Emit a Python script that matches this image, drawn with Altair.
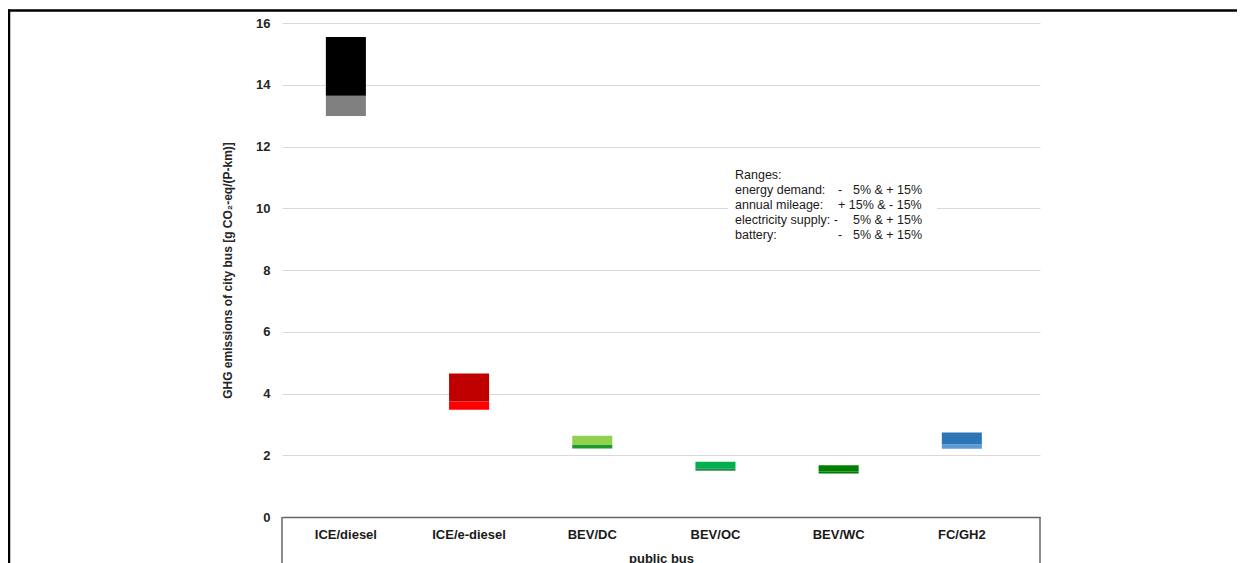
import altair as alt
import pandas as pd

# ---- data ----
categories = ["ICE/diesel", "ICE/e-diesel", "BEV/DC", "BEV/OC", "BEV/WC", "FC/GH2"]
low_values = [12.99, 3.47, 2.22, 1.50, 1.41, 2.21]
mid_values = [13.64, 3.74, 2.33, 1.58, 1.47, 2.36]
high_values = [15.55, 4.65, 2.63, 1.79, 1.68, 2.74]
upper_colors = ["#000000", "#c00000", "#92d050", "#00b050", "#008000", "#2e75b6"]
lower_colors = ["#808080", "#ff0000", "#1a9a28", "#1f8f48", "#007a00", "#5b9bd5"]
y_ticks = [0, 2, 4, 6, 8, 10, 12, 14, 16]

ann_labels = ["Ranges:", "energy demand:", "annual mileage:", "electricity supply: -", "battery:"]
ann_signs = ["", "-", "+ 15% & - 15%", "", "-"]
ann_values = ["", "5% & + 15%", "", "5% & + 15%", "5% & + 15%"]

rows = []
for i, c in enumerate(categories):
    rows.append({"cat": c, "seg": c + " lower", "y0": low_values[i], "y1": mid_values[i], "color": lower_colors[i]})
    rows.append({"cat": c, "seg": c + " upper", "y0": mid_values[i], "y1": high_values[i], "color": upper_colors[i]})
df = pd.DataFrame(rows)
one = pd.DataFrame({"k": [0]})

FONT = "Liberation Sans"
W, H = 758, 494

x_scale = alt.Scale(domain=categories, paddingInner=0.675, paddingOuter=0.414, align=0.43)
y_scale = alt.Scale(domain=[0, 16], nice=False)

bars = alt.Chart(df).mark_bar(opacity=1).encode(
    x=alt.X("cat:N", scale=x_scale, sort=categories,
            axis=alt.Axis(title="public bus", labelAngle=0, labelFont=FONT, labelFontSize=13,
                          labelFontWeight="bold", labelColor="#1a1a1a", labelPadding=11,
                          ticks=False, domainColor="#666666", domainWidth=1.5, grid=False,
                          titleFont=FONT, titleFontSize=13, titleFontWeight="bold",
                          titleColor="#1a1a1a", titlePadding=11)),
    y=alt.Y("y0:Q", scale=y_scale,
            axis=alt.Axis(values=y_ticks, title="GHG emissions of city bus [g CO\u2082-eq/(P-km)]",
                          labelFont=FONT, labelFontSize=13, labelFontWeight="bold",
                          labelColor="#262626", labelPadding=12, ticks=False, domain=False,
                          grid=True, gridColor="#d9d9d9", gridWidth=1,
                          titleFont=FONT, titleFontSize=12, titleFontWeight="bold",
                          titleColor="#262626", titlePadding=21)),
    y2="y1:Q",
    color=alt.Color("seg:N", scale=alt.Scale(domain=list(df["seg"]), range=list(df["color"])), legend=None),
)

# box around the category axis
box_left = alt.Chart(one).mark_rule(color="#666666", strokeWidth=1.5).encode(
    x=alt.value(0), y=alt.value(H), y2=alt.value(H + 60))
box_right = alt.Chart(one).mark_rule(color="#666666", strokeWidth=1.5).encode(
    x=alt.value(W), y=alt.value(H), y2=alt.value(H + 60))

# outer frame of the figure
frame_top = alt.Chart(one).mark_rule(color="#000000", strokeWidth=2.5).encode(
    x=alt.value(-274), x2=alt.value(W + 200), y=alt.value(-12.5))
frame_left = alt.Chart(one).mark_rule(color="#000000", strokeWidth=2.5).encode(
    x=alt.value(-273), y=alt.value(-13.5), y2=alt.value(H + 60))

# annotation box
ann_bg = alt.Chart(one).mark_rect(color="white").encode(
    x=alt.value(446), x2=alt.value(655), y=alt.value(140), y2=alt.value(222))

layers = [bars, box_left, box_right, frame_top, frame_left, ann_bg]
for col_texts, xpos in ((ann_labels, 453), (ann_signs, 556), (ann_values, 571)):
    for i, t in enumerate(col_texts):
        if t:
            layers.append(
                alt.Chart(one).mark_text(align="left", baseline="middle", font=FONT, fontSize=12.5,
                                         color="#1a1a1a", text=t)
                .encode(x=alt.value(xpos), y=alt.value(152 + 15 * i))
            )

chart = alt.layer(*layers).properties(
    width=W, height=H,
    background="white",
    autosize=alt.AutoSizeParams(type="none"),
    padding={"left": 274, "top": 15, "right": 197, "bottom": 46},
).configure_view(stroke="transparent", strokeWidth=0)

chart.save("out.html", embed_options={"renderer": "svg", "actions": False})
